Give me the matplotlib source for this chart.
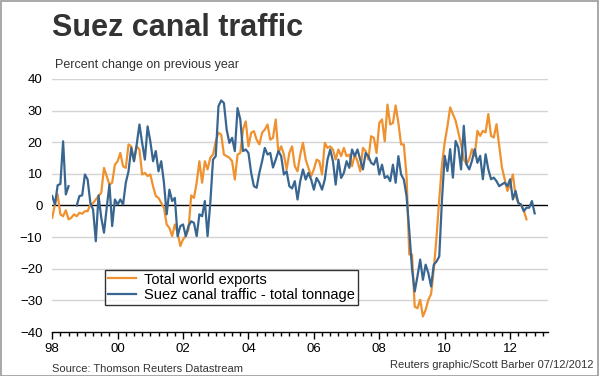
import numpy as np
import matplotlib
matplotlib.use('Agg')
import matplotlib.pyplot as plt
from matplotlib.patches import Rectangle

plt.rcParams['font.family'] = ['Liberation Sans', 'DejaVu Sans']

# monthly series from Jan 1998, % change on previous year
suez = [3, 0.3, 6.4, 6.8, 20.3, 3.5, 6.1, np.nan, np.nan, 0,
        3, 3.2, 9.8, 8.2, 0.8, -1.3, -11.3, 3.2, -3.9, -8.6,
        -0.7, 6.6, -6.5, 1.9, 0.3, 1.9, 0.3, 7.2, 10.8, 18.2,
        14, 19.3, 25.6, 19.8, 14.5, 25, 20.3, 14, 17.2, 10.8,
        14, 7.2, -2.8, 5, 1.4, 2.4, -9.7, -6.5, -6, -9.7,
        -6.5, -5, -5.5, -9.7, -2.8, -3.4, 1.4, -9.7, 0.8, 14.5,
        15.6, 31.4, 33.2, 32.4, 24, 19.8, 21.4, 17.2, 30.8, 27.2,
        17.2, 17.7, 16.6, 10.3, 6.1, 5.6, 10.3, 14, 18.2, 16.1,
        16.6, 12, 14.5, 17.2, 15.6, 9.8, 10.8, 6.1, 5.4, 7.7,
        1.9, 7.7, 11.4, 8.2, 10.3, 8.2, 5, 8.7, 7.2, 5,
        8.2, 14.5, 17.7, 14, 6.6, 14.5, 8.7, 10.3, 14, 11.9,
        17.7, 15.6, 17.7, 14.5, 11.4, 16.6, 15.6, 13.5, 12.9, 15.1,
        9.8, 12.9, 8.7, 9.3, 7.7, 12.9, 7.2, 15.6, 9.8, 8.2,
        3, -8, -20, -27.2, -22.4, -17.1, -23.5, -18.7, -21.4, -25.6,
        -18.7, -17.7, -16.1, 1.9, 15.7, 10.9, 17.8, 8.8, 20.4, 18.3,
        11.4, 25.2, 13, 11.4, 14.1, 17.8, 13.5, 15.7, 8.3, 16.2,
        11.4, 8.3, 8.8, 7.7, 6.1, 6.7, 7.2, 6.1, 8.3, 1.9,
        4.6, 0.8, 0.3, -1.8, -0.7, -0.7, 1.4, -2.5]

exports = [-3.9, 0.3, 3.5, -2.8, -3.4, -1.5, -4.4, -3.9, -2.8, -3.4,
           -2.3, -2.6, -1.8, -1.8, 0.3, 0.8, 1.9, 3, 4, 11.9,
           9.3, 6.6, 7.2, 12.9, 14, 16.6, 12.4, 11.9, 19.3, 18.7,
           14, 18.7, 17.7, 9.8, 10.3, 9.3, 9.8, 6.1, 3, 2.4,
           0.8, -0.7, -6, -7.1, -9.7, -6, -8.6, -12.8, -10.7, -9.7,
           -7.6, 3.2, 2.4, 7.2, 14, 7.2, 14, 11.4, 15.1, 16.1,
           20.3, 23, 22.4, 16.1, 15.6, 15.1, 14, 8.2, 16.1, 16.6,
           24, 26.6, 18.7, 23, 23.5, 20.8, 19.3, 23, 24, 25.6,
           20.8, 21.4, 27.2, 16.6, 18.7, 16.1, 11.4, 16.6, 18.7, 12.4,
           10.8, 16.1, 19.8, 14.5, 11.9, 9.3, 11.4, 14.5, 14, 9.8,
           19.8, 18.2, 18.7, 17.7, 14.5, 17.7, 15.6, 18.2, 15.6, 16.1,
           12.4, 16.1, 14, 10.8, 18.2, 17.2, 14.5, 21.9, 21.4, 16.6,
           26.1, 27.2, 20.3, 31.9, 25.6, 26.1, 31.6, 26.1, 19.3, 19.3,
           9.3, -15.5, -15.5, -32, -32.5, -29.8, -35.1, -33, -29.8, -28,
           -20, -10, 2, 13, 20, 25, 31, 28.9, 26.8, 23.1,
           19.4, 14.6, 13, 14.6, 17.8, 15.7, 23.6, 22, 23.6, 23.1,
           28.9, 22, 21.5, 25.7, 18.8, 12, 8.3, 4.6, 6.7, 9.8,
           3, 0.8, 0.3, -1.5, -4.4]

year_ticks = [1998, 2000, 2002, 2004, 2006, 2008, 2010, 2012]
year_labels = ['98', '00', '02', '04', '06', '08', '10', '12']
y_ticks = [40, 30, 20, 10, 0, -10, -20, -30, -40]

x_suez = 1998 + np.arange(len(suez)) / 12
x_exp = 1998 + np.arange(len(exports)) / 12

fig = plt.figure(figsize=(6, 3.76), dpi=100)
ax = fig.add_axes([0.087, 0.117, 0.827, 0.673])

for v in y_ticks[:-1]:
    if v != 0:
        ax.axhline(v, color='#d4d4d4', lw=1, zorder=1)
ax.axhline(0, color='black', lw=1, zorder=2)

ax.plot(x_exp, exports, color='#f0912f', lw=1.6, label='Total world exports', zorder=3)
ax.plot(x_suez, suez, color='#386690', lw=1.6, label='Suez canal traffic - total tonnage', zorder=4)

ax.set_xlim(1998, 2013.17)
ax.set_ylim(-40, 40)
ax.set_xticks(year_ticks)
ax.set_xticklabels(year_labels)
ax.set_xticks(np.arange(1998, 2013.2, 0.25), minor=True)
ax.set_yticks(y_ticks)
ax.tick_params(axis='x', which='major', length=5, width=1, labelsize=9.5, colors='black', pad=3)
ax.tick_params(axis='x', which='minor', length=3, width=1)
ax.tick_params(axis='y', length=0, labelsize=9.5, pad=7)
for s in ['top', 'right', 'left']:
    ax.spines[s].set_visible(False)
ax.spines['bottom'].set_linewidth(1)

leg = ax.legend(loc='lower left', bbox_to_anchor=(0.107, 0.107), frameon=True, fancybox=False,
                edgecolor='black', fontsize=10.5, handlelength=1.9, borderpad=0.2,
                labelspacing=0.1, handletextpad=0.55, borderaxespad=0)
leg.get_frame().set_linewidth(1)

fig.text(0.087, 0.905, 'Suez canal traffic', fontsize=22, fontweight='bold', color='#333333', va='baseline')
fig.text(0.092, 0.82, 'Percent change on previous year', fontsize=9, color='#333333', va='baseline')
fig.text(0.087, 0.011, 'Source: Thomson Reuters Datastream', fontsize=8, color='#333333', va='baseline')
fig.text(0.99, 0.022, 'Reuters graphic/Scott Barber 07/12/2012', fontsize=8, color='#333333',
         ha='right', va='baseline')

fig.patches.append(Rectangle((0.001, 0.001), 0.996, 0.996, transform=fig.transFigure,
                             fill=False, edgecolor='#999999', lw=1.2))

fig.savefig('out.png', dpi=100)
